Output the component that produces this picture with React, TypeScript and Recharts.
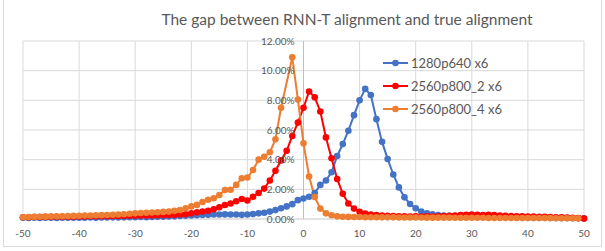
import { LineChart, Line, XAxis, YAxis, CartesianGrid, Legend, ReferenceLine } from "recharts";

const offsets = [
  -50, -49, -48, -47, -46, -45, -44, -43, -42, -41,
  -40, -39, -38, -37, -36, -35, -34, -33, -32, -31,
  -30, -29, -28, -27, -26, -25, -24, -23, -22, -21,
  -20, -19, -18, -17, -16, -15, -14, -13, -12, -11,
  -10, -9, -8, -7, -6, -5, -4, -3, -2, -1,
  0, 1, 2, 3, 4, 5, 6, 7, 8, 9,
  10, 11, 12, 13, 14, 15, 16, 17, 18, 19,
  20, 21, 22, 23, 24, 25, 26, 27, 28, 29,
  30, 31, 32, 33, 34, 35, 36, 37, 38, 39,
  40, 41, 42, 43, 44, 45, 46, 47, 48, 49, 50,
];

// percent of tokens at each offset
const p640x6 = [
  0.08, 0.07, 0.08, 0.07, 0.08, 0.08, 0.07, 0.08, 0.08, 0.09,
  0.08, 0.09, 0.1, 0.09, 0.1, 0.1, 0.11, 0.1, 0.11, 0.12,
  0.12, 0.13, 0.12, 0.14, 0.15, 0.16, 0.17, 0.18, 0.2, 0.22,
  0.24, 0.26, 0.27, 0.28, 0.3, 0.3, 0.31, 0.3, 0.3, 0.28,
  0.3, 0.33, 0.38, 0.42, 0.5, 0.6, 0.72, 0.85, 1.0, 1.27,
  1.38, 1.5, 1.75, 2.3, 2.6, 3.15, 4.25, 5.05, 5.95, 7.0,
  8.0, 8.77, 8.36, 6.73, 5.2, 4.05, 3.0, 2.13, 1.46, 1.01,
  0.72, 0.5, 0.38, 0.32, 0.27, 0.24, 0.22, 0.2, 0.19, 0.18,
  0.17, 0.16, 0.15, 0.14, 0.13, 0.12, 0.12, 0.11, 0.1, 0.1,
  0.09, 0.09, 0.08, 0.08, 0.07, 0.07, 0.06, 0.06, 0.05, 0.05, 0.04,
];

const p800_2x6 = [
  0.12, 0.12, 0.13, 0.13, 0.14, 0.14, 0.15, 0.15, 0.16, 0.16,
  0.17, 0.17, 0.18, 0.18, 0.19, 0.19, 0.2, 0.2, 0.21, 0.22,
  0.22, 0.23, 0.23, 0.24, 0.25, 0.26, 0.27, 0.28, 0.3, 0.32,
  0.38, 0.45, 0.5, 0.56, 0.65, 0.79, 0.94, 1.05, 1.2, 1.35,
  1.25, 1.5, 1.75, 2.05, 2.6, 3.25, 3.95, 4.6, 5.6, 6.5,
  7.5, 8.6, 8.2, 7.25, 5.5, 4.1, 2.7, 1.7, 1.05, 0.7,
  0.48, 0.37, 0.3, 0.26, 0.23, 0.21, 0.2, 0.19, 0.18, 0.17,
  0.18, 0.17, 0.18, 0.17, 0.18, 0.2, 0.22, 0.24, 0.26, 0.28,
  0.3, 0.28, 0.27, 0.28, 0.26, 0.24, 0.22, 0.2, 0.19, 0.18,
  0.17, 0.16, 0.15, 0.14, 0.13, 0.12, 0.11, 0.1, 0.08, 0.06, 0.03,
];

const p800_4x6 = [
  0.12, 0.13, 0.14, 0.15, 0.16, 0.17, 0.18, 0.19, 0.2, 0.21,
  0.22, 0.23, 0.24, 0.25, 0.26, 0.27, 0.28, 0.3, 0.32, 0.35,
  0.38, 0.4, 0.42, 0.44, 0.46, 0.48, 0.5, 0.55, 0.6, 0.72,
  0.85, 0.95, 1.15, 1.3, 1.4, 1.62, 1.95, 1.97, 2.3, 2.75,
  2.8, 3.3, 4.0, 4.2, 4.5, 5.37, 7.5, null, 10.9, 8.05,
  5.1, 2.87, 1.48, 0.7, 0.38, 0.25, 0.18, 0.15, 0.14, 0.13,
  0.13, 0.12, 0.12, 0.12, 0.11, 0.11, 0.11, 0.1, 0.1, 0.1,
  0.1, 0.1, 0.09, 0.09, 0.09, 0.09, 0.09, 0.08, 0.08, 0.08,
  0.08, 0.08, 0.08, 0.07, 0.07, 0.07, 0.07, 0.07, 0.07, 0.06,
  0.06, 0.06, 0.06, 0.06, 0.06, 0.05, 0.05, 0.05, 0.05, 0.05, null,
];

const seriesNames = ["1280p640 x6", "2560p800_2 x6", "2560p800_4 x6"];
const seriesKeys = ["a", "b", "c"];
const colors = ["#4472C4", "#FF0000", "#ED7D31"];
const xTicks = [-50, -40, -30, -20, -10, 0, 10, 20, 30, 40, 50];
const yTicks = [0, 2, 4, 6, 8, 10, 12];

const data = offsets.map((x, i) => ({
  x,
  a: p640x6[i],
  b: p800_2x6[i],
  c: p800_4x6[i],
}));

const W = 605;
const H = 251;
const margin = { top: 41, right: 21, bottom: 2, left: 22 };
const font = "Lato, 'Liberation Sans', sans-serif";
const textColor = "#595959";
const gridColor = "#d9d9d9";

// y labels sit beside the vertical axis at x = 0
const plotLeft = margin.left + 1;
const zeroX = plotLeft + (W - plotLeft - margin.right) / 2;

const renderYTick = (props: any) => {
  const { y, payload } = props;
  return (
    <text
      key={payload.value}
      x={zeroX - 9}
      y={y}
      dy={3.5}
      textAnchor="end"
      fontSize={10}
      fontFamily={font}
      fill={textColor}
    >
      {`${Number(payload.value).toFixed(2)}%`}
    </text>
  );
};

const LegendBox = (props: any) => {
  const items = props.payload || [];
  return (
    <div style={{ fontFamily: font, fontSize: 13, color: textColor }}>
      {items.map((item: any) => (
        <div
          key={item.value}
          style={{ display: "flex", alignItems: "center", height: 23 }}
        >
          <svg width={28} height={10}>
            <line x1={0} y1={5} x2={25} y2={5} stroke={item.color} strokeWidth={2} />
            <circle cx={12.5} cy={5} r={3.3} fill={item.color} />
          </svg>
          <span>{item.value}</span>
        </div>
      ))}
    </div>
  );
};

export default function App() {
  return (
    <div
      style={{
        position: "absolute",
        left: 0,
        top: 0,
        width: W,
        height: H,
        background: "#fff",
      }}
    >
      <div
        style={{
          position: "absolute",
          left: 3,
          top: -1,
          width: 597,
          height: 246,
          border: `1px solid ${gridColor}`,
        }}
      />
      <div
        style={{
          position: "absolute",
          left: 0,
          width: 694,
          top: 10,
          textAlign: "center",
          fontFamily: font,
          fontSize: 15.5,
          color: textColor,
          whiteSpace: "nowrap",
        }}
      >
        The gap between RNN-T alignment and true alignment
      </div>
      <LineChart width={W} height={H} data={data} margin={margin}>
        <CartesianGrid stroke={gridColor} strokeWidth={1} />
        <XAxis
          dataKey="x"
          type="number"
          domain={[-50, 50]}
          ticks={xTicks}
          tickLine={false}
          axisLine={{ stroke: gridColor }}
          tickMargin={5}
          tick={{ fontSize: 10, fontFamily: font, fill: textColor }}
        />
        <YAxis
          width={1}
          domain={[0, 12]}
          ticks={yTicks}
          interval={0}
          axisLine={false}
          tickLine={false}
          tick={renderYTick}
        />
        <ReferenceLine x={0} stroke="#bfbfbf" strokeWidth={1} />
        <Legend
          layout="vertical"
          align="center"
          verticalAlign="middle"
          content={<LegendBox />}
          wrapperStyle={{ left: 383, top: 51, width: 150 }}
        />
        {seriesKeys.map((k, i) => (
          <Line
            key={k}
            dataKey={k}
            name={seriesNames[i]}
            stroke={colors[i]}
            strokeWidth={2}
            dot={{ r: 3.3, fill: colors[i], stroke: "none" }}
            activeDot={false}
            connectNulls
            isAnimationActive={false}
          />
        ))}
      </LineChart>
    </div>
  );
}
